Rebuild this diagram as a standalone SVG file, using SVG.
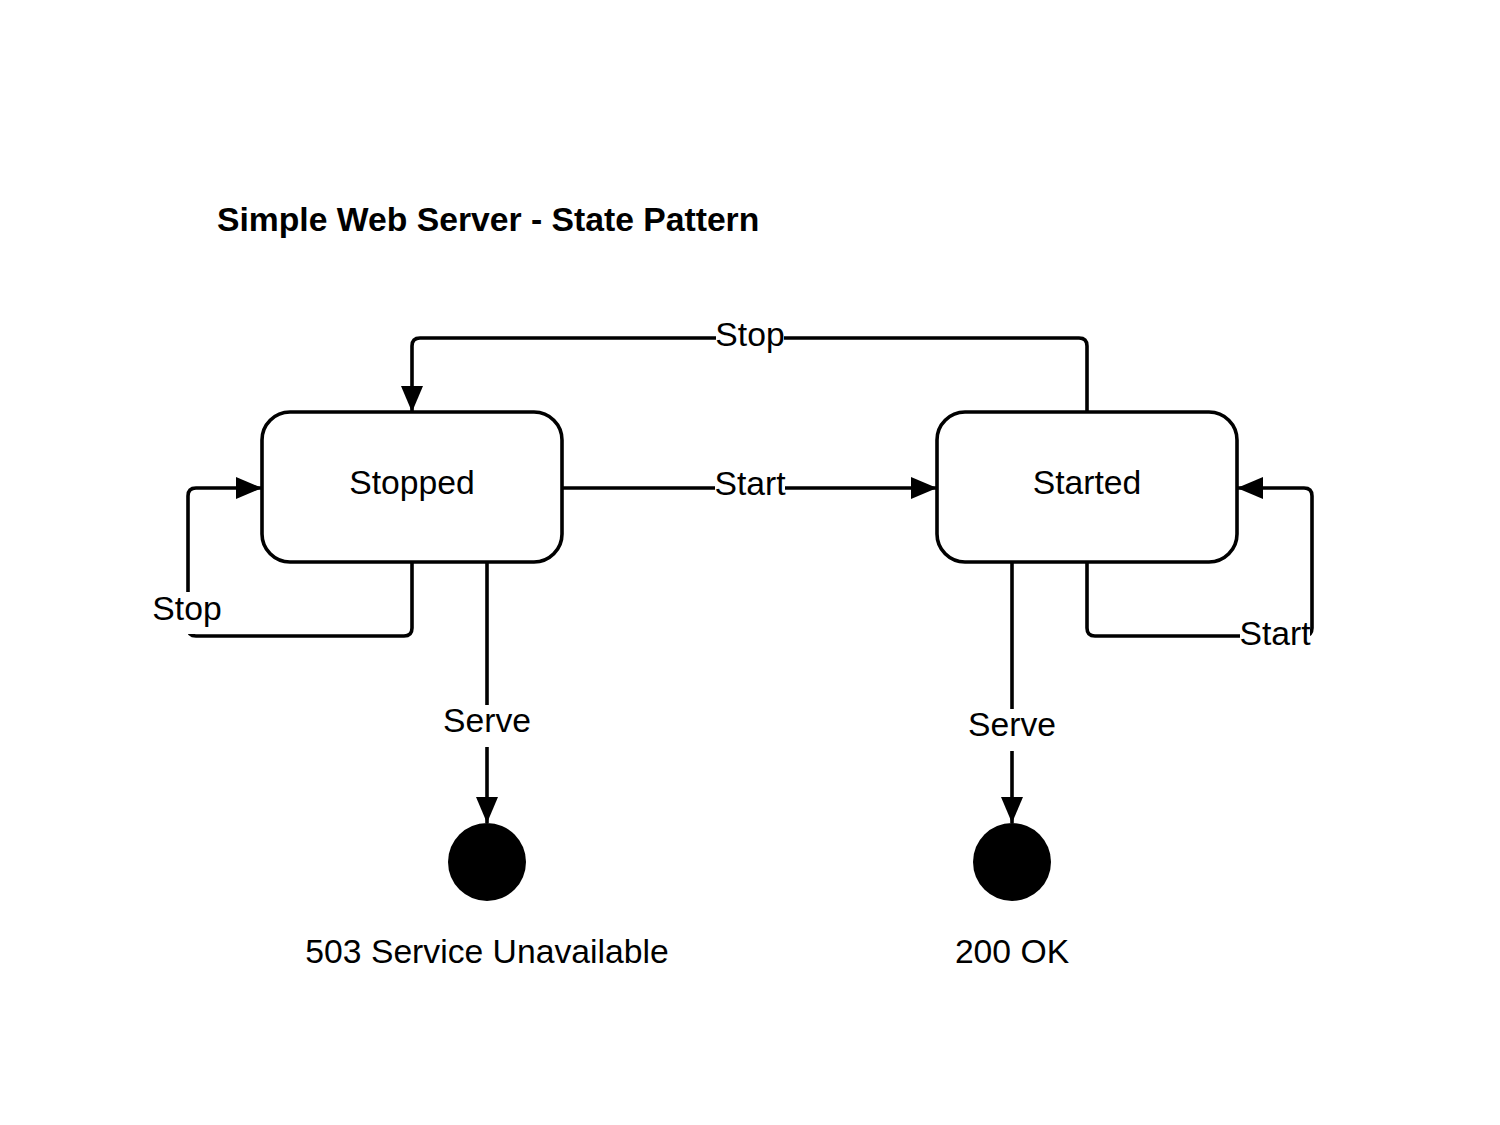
<svg xmlns="http://www.w3.org/2000/svg" width="1500" height="1125" viewBox="0 0 1500 1125">
<style>
.state{fill:#fff;stroke:#000;stroke-width:3.6}
.edge{fill:none;stroke:#000;stroke-width:3.6}
.t{font-family:"Liberation Sans",Arial,sans-serif;font-size:33.7px;fill:#000;text-anchor:middle}
.title{font-family:"Liberation Sans",Arial,sans-serif;font-size:33.7px;font-weight:bold;fill:#000}
.bg{fill:#fff}
.end{fill:#000}
</style>
<defs>
<marker id="arr" markerUnits="userSpaceOnUse" markerWidth="27" markerHeight="22" refX="26" refY="11" orient="auto">
<path d="M0,0 L26,11 L0,22 z" fill="#000"/>
</marker>
</defs>
<rect width="1500" height="1125" fill="#fff"/>
<text class="title" x="217" y="231">Simple Web Server - State Pattern</text>
<g id="connectors">
<path class="edge" d="M1087,412 V346 Q1087,338 1079,338 H420 Q412,338 412,346 V412" marker-end="url(#arr)"/>
<rect class="bg" x="716" y="318" width="68" height="32"/>
<text class="t" x="750" y="346">Stop</text>
<path class="edge" d="M562,488 H937" marker-end="url(#arr)"/>
<rect class="bg" x="715" y="468" width="70" height="32"/>
<text class="t" x="750" y="495">Start</text>
<path class="edge" d="M412,562 V628 Q412,636 404,636 H196 Q188,636 188,628 V496 Q188,488 196,488 H262" marker-end="url(#arr)"/>
<rect class="bg" x="152" y="592" width="70" height="42"/>
<text class="t" x="187" y="620">Stop</text>
<path class="edge" d="M1087,562 V628 Q1087,636 1095,636 H1304 Q1312,636 1312,628 V496 Q1312,488 1304,488 H1237" marker-end="url(#arr)"/>
<rect class="bg" x="1240" y="617" width="70" height="35"/>
<text class="t" x="1275" y="645">Start</text>
<path class="edge" d="M487,562 V823" marker-end="url(#arr)"/>
<rect class="bg" x="443" y="705" width="88" height="42"/>
<text class="t" x="487" y="732">Serve</text>
<path class="edge" d="M1012,562 V823" marker-end="url(#arr)"/>
<rect class="bg" x="968" y="709" width="88" height="42"/>
<text class="t" x="1012" y="736">Serve</text>
</g>
<g id="stopped">
<rect class="state" x="262" y="412" width="300" height="150" rx="28" ry="28"/>
<text class="t" x="412" y="494">Stopped</text>
</g>
<g id="started">
<rect class="state" x="937" y="412" width="300" height="150" rx="28" ry="28"/>
<text class="t" x="1087" y="494">Started</text>
</g>
<g id="end503">
<circle class="end" cx="487" cy="862" r="39"/>
<text class="t" x="487" y="963">503 Service Unavailable</text>
</g>
<g id="end200">
<circle class="end" cx="1012" cy="862" r="39"/>
<text class="t" x="1012" y="963">200 OK</text>
</g>
</svg>
